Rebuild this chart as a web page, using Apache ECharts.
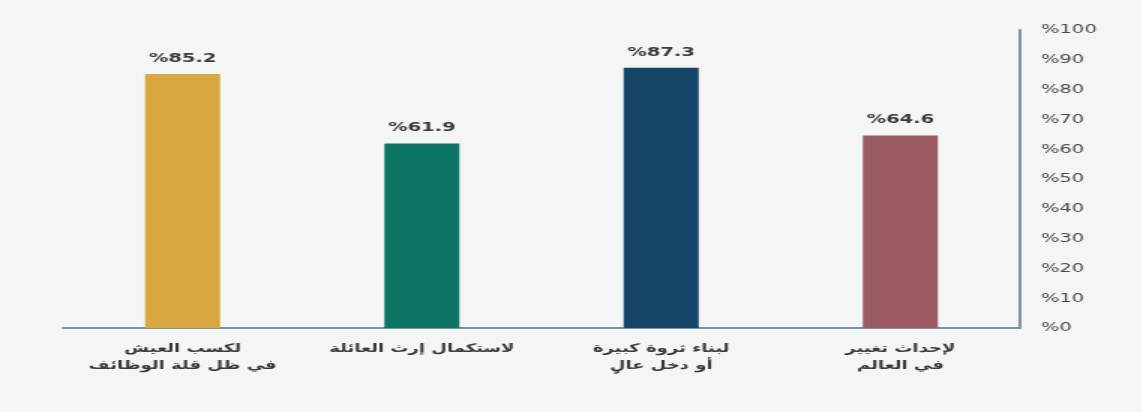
<!DOCTYPE html>
<html>
<head>
<meta charset="utf-8">
<script src="https://cdn.jsdelivr.net/npm/echarts@6/dist/echarts.min.js"></script>
<style>
  html, body { margin: 0; padding: 0; background: #f4f5f5; overflow: hidden; }
  /* The chart is laid out on a narrower canvas and widened, giving the wide lettering */
  #chart { width: 761px; height: 412px; transform: scaleX(1.5); transform-origin: 0 0; }
</style>
</head>
<body>
<div id="chart"></div>
<script>
// Reasons given, one bar per category (left to right)
const categories = [
  'لكسب العيش\nفي ظل قلة الوظائف',
  'لاستكمال إرث العائلة',
  'لبناء ثروة كبيرة\nأو دخل عالٍ',
  'لإحداث تغيير\nفي العالم'
];
const values = [85.2, 61.9, 87.3, 64.6];
const barColors = ['#d6a83f', '#0d7563', '#16456a', '#9a5b62'];
const yTicks = { min: 0, max: 100, interval: 10 };

const chart = echarts.init(document.getElementById('chart'));
chart.setOption({
  backgroundColor: '#f4f5f5',
  animation: false,
  grid: { left: 42, right: 81, top: 30, bottom: 84 },
  xAxis: {
    type: 'category',
    data: categories,
    axisLine: { show: true, lineStyle: { color: '#7f919f', width: 2 } },
    axisTick: { show: false },
    axisLabel: {
      color: '#3a3a3a',
      fontFamily: 'DejaVu Sans',
      fontWeight: 'bold',
      fontSize: 12,
      lineHeight: 17,
      margin: 12,
      interval: 0
    }
  },
  yAxis: {
    type: 'value',
    position: 'right',
    min: yTicks.min,
    max: yTicks.max,
    interval: yTicks.interval,
    axisLine: { show: true, lineStyle: { color: '#7f919f', width: 2 } },
    axisTick: { show: false },
    splitLine: { show: false },
    axisLabel: {
      color: '#4a4a4a',
      fontFamily: 'DejaVu Sans',
      fontSize: 13,
      margin: 14,
      formatter: v => '%' + v
    }
  },
  series: [{
    type: 'bar',
    data: values.map((v, i) => ({ value: v, itemStyle: { color: barColors[i] } })),
    barWidth: 50,
    label: {
      show: true,
      position: 'top',
      distance: 9,
      color: '#3a3a3a',
      fontFamily: 'DejaVu Sans',
      fontWeight: 'bold',
      fontSize: 13,
      formatter: p => '%' + p.value.toFixed(1)
    }
  }]
});
</script>
</body>
</html>
